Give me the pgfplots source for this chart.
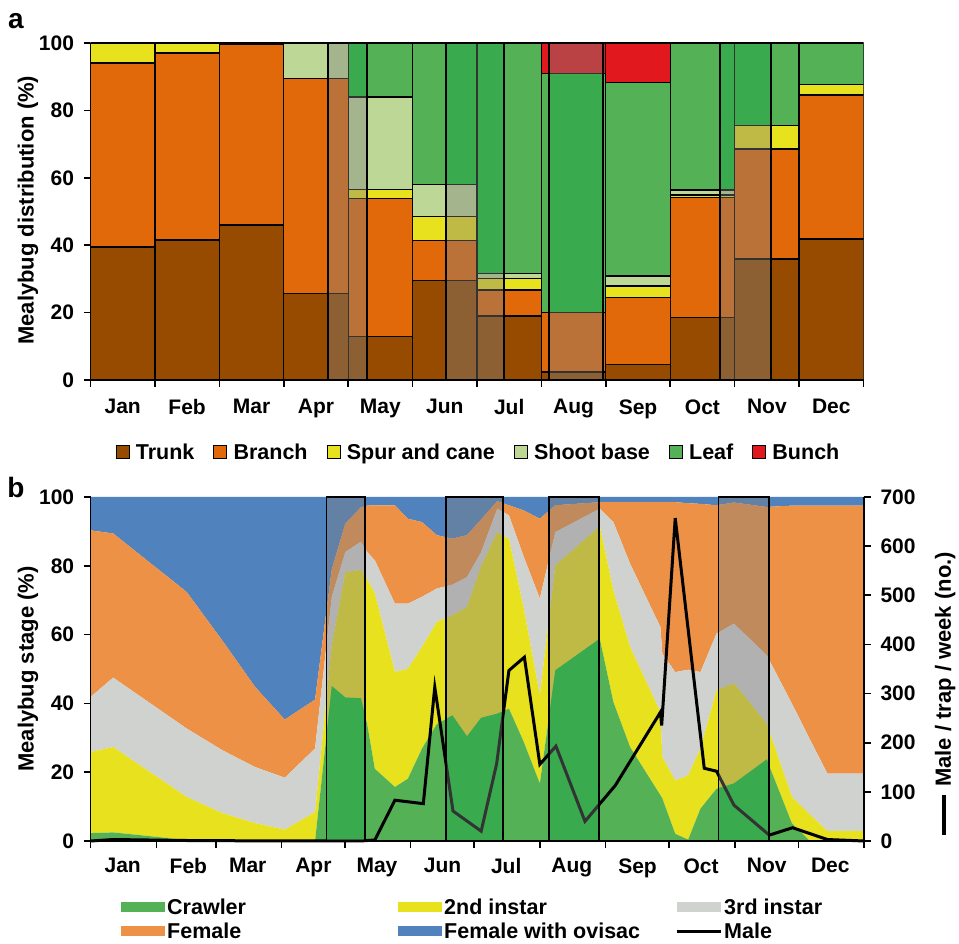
\documentclass[border=0pt]{standalone}
\usepackage{pgfplots}
\pgfplotsset{compat=1.18}
\usepackage{pgfplotstable}
\usepackage{fontspec}
\setmainfont{Liberation Sans}

\definecolor{trunk}{RGB}{150,75,0}
\definecolor{branch}{RGB}{225,105,10}
\definecolor{spur}{RGB}{232,225,30}
\definecolor{shoot}{RGB}{188,215,150}
\definecolor{leaf}{RGB}{85,177,85}
\definecolor{bunch}{RGB}{225,25,30}
\definecolor{crawler}{RGB}{85,177,85}
\definecolor{second}{RGB}{232,225,30}
\definecolor{third}{RGB}{208,210,208}
\definecolor{female}{RGB}{237,145,70}
\definecolor{ovisac}{RGB}{80,130,190}
\definecolor{shade}{RGB}{128,128,128}
\definecolor{deepgreen}{RGB}{11,198,46}

\newcommand\tickfont{\fontsize{21}{23}\selectfont\bfseries}
\newcommand\labfont{\fontsize{22}{24}\selectfont\bfseries}
\newcommand\legfont{\fontsize{21.5}{23}\selectfont\bfseries}
\newcommand\lb[1]{\makebox[229pt][l]{#1}}

% mealybug distribution on the vine (%), by month
\pgfplotstableread{
m    trunk branch spur shoot leaf bunch
0.5  39.5  54.6   5.9  0     0    0
1.5  41.5  55.5   3    0     0    0
2.5  46    53.5   0.5  0     0    0
3.5  25.7  63.8   0    10.5  0    0
4.5  12.9  41     2.7  27.4  16   0
5.5  29.5  11.8   7.2  9.5   42   0
6.5  19    7.7    3.5  1.3   68.5 0
7.5  2.4   17.6   0    0     71   9
8.5  4.5   19.9   3.5  3     57.3 11.8
9.5  18.6  35.5   0.8  1.5   43.6 0
10.5 35.9  32.6   7    0     24.5 0
11.5 41.8  42.8   3.1  0     12.3 0
}\dist

% mealybug stages (%), day of year
\pgfplotstableread{
day   cr   sec  thi  fem  ovi
0     2.3  23.6 16.0 48.4 9.7
10.6  2.5  24.8 20.2 41.9 10.6
45.3  0.3  12.5 19.9 39.7 27.6
62.1  0    8.1  18.3 31.9 41.7
77.6  0    5.2  16.3 23.3 55.2
91.6  0    3.3  15.1 16.9 64.7
105.9 0    8.4  18.5 14.2 58.9
113.8 45   12   14   8    21
120.2 41.7 36.5 5.8  8.3  7.7
127.5 41.5 37.3 8.2  10   3
130.5 34   42   8    13.5 2.5
134.1 21   51   9.6  16   2.4
143.6 15.7 33.4 19.9 28.6 2.4
149.7 18.1 32   18.9 24.7 6.3
156.4 26.9 29.5 14.6 21.7 7.3
163.4 34   29.7 9.7  15.5 11.1
170.7 36.5 29.1 8.9  13.4 12.1
177.6 30.4 37.6 8.7  12.2 11.1
184.3 35.8 44.2 4    9.5  6.5
191.9 37   52.8 6.8  2.2  1.2
197.4 38.5 49.4 6.8  2.9  2.4
204.4 28.8 38.8 15   13.5 3.9
212.0 16.7 25.7 28.1 23.2 6.3
219.3 49.6 30.5 9.7  7.8  2.4
240.3 58.8 32.7 5.1  1.9  1.5
246.7 40.4 32.5 19.8 5.8  1.5
254.6 27.3 29.1 24.2 17.9 1.5
268.9 13.3 24.2 24.7 36.3 1.5
269.8 12.4 12   30.1 44   1.5
275.9 2.1  15.5 31.5 49.4 1.5
282.0 0.4  18.7 30.7 48.4 1.8
287.8 9.4  17.5 22.2 48.9 2
295.4 15.2 28.6 16.5 37.3 2.4
303.6 16.7 29.2 17.3 35.2 1.6
319.1 23.7 10.4 19.9 43.1 2.9
331.0 5.1  7.7  27.1 57.6 2.5
339.5 0    7.7  21.8 68   2.5
347.7 0    2.9  16.7 77.9 2.5
365   0    2.9  16.7 77.9 2.5
}\stage

\pgfplotsset{
  panel/.style={
    scale only axis, anchor=south west, axis on top,
    axis line style={line width=1.6pt},
    tick align=outside, major tick length=7pt,
    every tick/.append style={black, line width=1.6pt},
    tick label style={font=\tickfont},
    label style={font=\labfont},
    /pgf/number format/assume math mode=true,
  },
  pa/.style={panel, at={(90.5pt,563pt)}, width=773pt, height=337pt,
    xmin=0, xmax=12, ymin=0, ymax=100},
  pb/.style={panel, at={(90.7pt,102pt)}, width=773.3pt, height=344pt,
    xmin=0, xmax=365},
  shadebox/.style={fill=shade, fill opacity=0.4, draw=black, line width=1.8pt},
}

\begin{document}
\begin{tikzpicture}
\path[use as bounding box] (0pt,0pt) rectangle (959pt,943pt);

% ---------- a ----------
\begin{axis}[pa,
  axis x line*=bottom, axis y line*=left,
  ybar stacked, bar width=1,
  xtick={0,...,12},
  xticklabels={Jan,Feb,Mar,Apr,May,Jun,Jul,Aug,Sep,Oct,Nov,Dec,{}},
  xticklabel style={xshift=32.2pt, yshift=-9pt},
  ytick={0,20,...,100},
  yticklabel style={xshift=-6pt},
  ylabel={Mealybug distribution (\%)},
  ylabel style={at={(axis description cs:-0.081,0.504)}, anchor=center},
  legend columns=-1,
  legend style={at={(0.502,-0.2136)}, anchor=center, draw=none, fill=none,
    font=\legfont, nodes={inner sep=2pt},
    /tikz/every even column/.append style={column sep=17pt}},
  legend image code/.code={\draw[#1,draw=black,line width=1pt] (0pt,-6.5pt) rectangle (13pt,6.5pt);\path (17pt,0pt);},
  every axis plot/.append style={draw=black, line width=1.3pt},
]
\addplot[fill=trunk]  table[x=m,y=trunk]  {\dist}; \addlegendentry{Trunk}
\addplot[fill=branch] table[x=m,y=branch] {\dist}; \addlegendentry{Branch}
\addplot[fill=spur]   table[x=m,y=spur]   {\dist}; \addlegendentry{Spur and cane}
\addplot[fill=shoot]  table[x=m,y=shoot]  {\dist}; \addlegendentry{Shoot base}
\addplot[fill=leaf]   table[x=m,y=leaf]   {\dist}; \addlegendentry{Leaf}
\addplot[fill=bunch]  table[x=m,y=bunch]  {\dist}; \addlegendentry{Bunch}
\end{axis}

% leaf segments inside the shaded periods
\begin{scope}
\clip (328.2pt,560pt) rectangle (366.8pt,903pt)
      (446.1pt,560pt) rectangle (504.0pt,903pt)
      (549.2pt,560pt) rectangle (603.0pt,903pt)
      (719.7pt,560pt) rectangle (770.7pt,903pt);
\begin{axis}[pa, hide axis, ybar stacked, bar width=1]
\addplot[draw=none, fill=none] table[x=m,y=trunk]  {\dist};
\addplot[draw=none, fill=none] table[x=m,y=branch] {\dist};
\addplot[draw=none, fill=none] table[x=m,y=spur]   {\dist};
\addplot[draw=none, fill=none] table[x=m,y=shoot]  {\dist};
\addplot[fill=deepgreen, draw=black, line width=1.3pt] table[x=m,y=leaf] {\dist};
\end{axis}
\end{scope}

\begin{axis}[pa, hide axis, clip=false]
\addplot[shadebox] coordinates {(3.69,100) (4.29,100)} \closedcycle;
\addplot[shadebox] coordinates {(5.52,100) (6.42,100)} \closedcycle;
\addplot[shadebox] coordinates {(7.12,100) (7.95,100)} \closedcycle;
\addplot[shadebox] coordinates {(9.77,100) (10.56,100)} \closedcycle;
\end{axis}

% ---------- b ----------
\begin{axis}[pb, ymin=0, ymax=100, stack plots=y,
  axis x line*=bottom, axis y line*=left,
  xtick={0,31,59,90,120,151,181,212,243,273,304,334,365},
  xticklabels={Jan,Feb,Mar,Apr,May,Jun,Jul,Aug,Sep,Oct,Nov,Dec,{}},
  xticklabel style={xshift=32pt, yshift=-7pt},
  ytick={0,20,...,100},
  yticklabel style={xshift=-6pt},
  ylabel={Mealybug stage (\%)},
  ylabel style={at={(axis description cs:-0.081,0.5)}, anchor=center},
  legend columns=3,
  legend cell align=left,
  legend style={at={(0.0353,-0.155)}, anchor=north west, draw=none, fill=none,
    font=\legfont, nodes={inner sep=2pt}, row sep=3pt},
  legend image code/.code={\path[#1,draw=none] (0pt,-5pt) rectangle (44pt,5pt);},
]
\addplot[fill=crawler, draw=none] table[x=day,y=cr] {\stage} \closedcycle;
\addlegendentry{\lb{Crawler}}
\addplot[fill=second, draw=none] table[x=day,y=sec] {\stage} \closedcycle;
\addlegendentry{\lb{2nd instar}}
\addplot[fill=third, draw=none] table[x=day,y=thi] {\stage} \closedcycle;
\addlegendentry{\lb{3rd instar}}
\addplot[fill=female, draw=none] table[x=day,y=fem] {\stage} \closedcycle;
\addlegendentry{\lb{Female}}
\addplot[fill=ovisac, draw=none] table[x=day,y=ovi] {\stage} \closedcycle;
\addlegendentry{\lb{Female with ovisac}}
\addlegendimage{legend image code/.code={\draw[black,line width=3pt] (0pt,0pt) -- (44pt,0pt);}}
\addlegendentry{Male}
\end{axis}

% crawlers inside the shaded periods
\begin{axis}[pb, ymin=0, ymax=100, hide axis]
\clip (axis cs:111.3,0) rectangle (axis cs:129.3,100)
      (axis cs:167.6,0) rectangle (axis cs:194.7,100)
      (axis cs:216.3,0) rectangle (axis cs:240,100)
      (axis cs:296.3,0) rectangle (axis cs:320.3,100);
\addplot[fill=deepgreen, draw=none] table[x=day,y=cr] {\stage} \closedcycle;
\end{axis}

\begin{axis}[pb, ymin=0, ymax=700, clip=false,
  axis x line=none, axis y line*=right,
  yticklabel pos=right,
  ytick={0,100,...,700},
  yticklabel style={xshift=6pt},
  ylabel={\rule[5pt]{40pt}{4pt}\hspace{8pt}Male / trap / week (no.)},
  ylabel style={font=\labfont, at={(axis description cs:1.105,0.429)}, anchor=center},
]
\addplot[black, line width=3pt] coordinates {
(0,0) (10.6,3) (45.6,1) (91.3,0) (127.1,0) (134.1,2) (143.6,83) (157,76)
(162.4,313) (171,61) (184.3,20) (191.6,157) (197.4,347) (204.7,374) (212,156)
(219.6,193) (233.3,40) (247.6,113) (268.9,262) (269.5,235) (275.9,657)
(289.6,148) (295.4,142) (303.6,73) (320.3,12) (331.3,27) (347.7,3) (365,0)};
\addplot[shadebox] coordinates {(111.3,700) (129.3,700)} \closedcycle;
\addplot[shadebox] coordinates {(167.6,700) (194.7,700)} \closedcycle;
\addplot[shadebox] coordinates {(216.3,700) (240,700)} \closedcycle;
\addplot[shadebox] coordinates {(296.3,700) (320.3,700)} \closedcycle;
\end{axis}

\node[font=\fontsize{28}{30}\selectfont\bfseries] at (16pt,922pt) {a};
\node[font=\fontsize{28}{30}\selectfont\bfseries] at (16pt,456pt) {b};
\end{tikzpicture}
\end{document}
